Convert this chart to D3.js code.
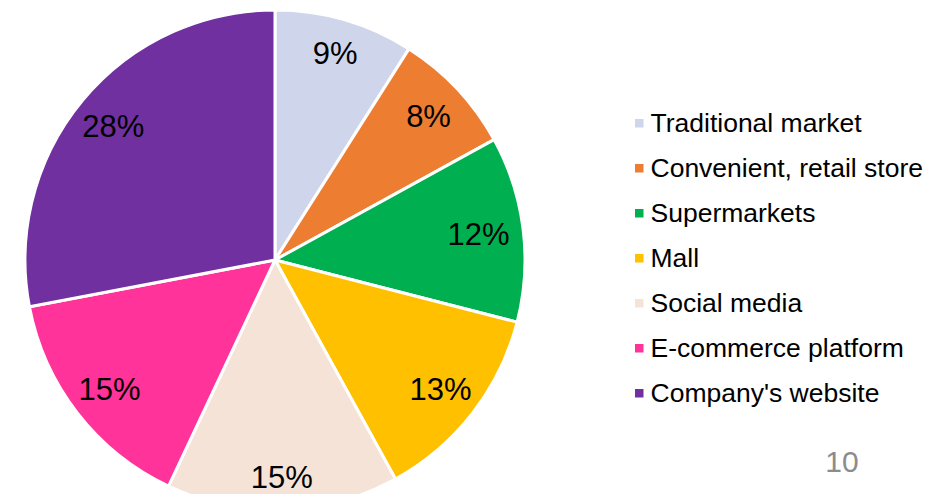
<!DOCTYPE html>
<html lang="en">
<head>
  <meta charset="UTF-8">
  <title>Sales channel pie</title>
  <script src="https://d3js.org/d3.v7.min.js"></script>
  <style>
    body {
      margin: 0;
      background-color: #fff;
      font-family: Arial, "Liberation Sans", sans-serif;
    }
    .label { font-size: 31px; fill: #000; }
    .legend { font-size: 26.5px; fill: #000; }
    .page { font-size: 30px; fill: #8c8c8c; }
  </style>
</head>
<body>
  <svg width="950" height="494"></svg>

  <script>
    const categories = ["Traditional market", "Convenient, retail store", "Supermarkets",
                        "Mall", "Social media", "E-commerce platform", "Company's website"];
    const values = [9, 8, 12, 13, 15, 15, 28];
    const colors = ["#CFD5EA", "#ED7D31", "#00B050", "#FFC000", "#F5E3D7", "#FF3399", "#7030A0"];
    const pageNumber = "10";

    const svg = d3.select("svg");
    const cx = 275, cy = 260, radius = 250;

    const data = categories.map((c, i) => ({name: c, value: values[i]}));
    const color = d3.scaleOrdinal().domain(categories).range(colors);

    const pie = d3.pie().sort(null).value(d => d.value);
    const arc = d3.arc().innerRadius(0).outerRadius(radius);

    // labels sit a bit further out near the top / bottom of the pie
    function labelPos(d) {
      const a = (d.startAngle + d.endAngle) / 2;
      const r = 205 + 12 * Math.cos(a) * Math.cos(a);
      return [r * Math.sin(a), -r * Math.cos(a)];
    }

    const g = svg.append("g").attr("transform", `translate(${cx},${cy})`);

    const arcs = pie(data);

    g.selectAll("path")
      .data(arcs)
      .enter()
      .append("path")
      .attr("d", arc)
      .attr("fill", d => color(d.data.name))
      .attr("stroke", "#fff")
      .attr("stroke-width", 3)
      .attr("stroke-linejoin", "round");

    g.selectAll(".label")
      .data(arcs)
      .enter()
      .append("text")
      .attr("class", "label")
      .attr("transform", d => `translate(${labelPos(d)})`)
      .attr("text-anchor", "middle")
      .attr("dy", "0.36em")
      .text(d => d.data.value + "%");

    // Legend
    const legend = svg.append("g").attr("transform", "translate(635,132)");
    categories.forEach((name, i) => {
      const yPos = i * 45;
      legend.append("rect")
        .attr("x", 0)
        .attr("y", yPos - 13)
        .attr("width", 8.5)
        .attr("height", 8.5)
        .attr("fill", color(name));
      legend.append("text")
        .attr("class", "legend")
        .attr("x", 15.5)
        .attr("y", yPos)
        .text(name);
    });

    svg.append("text")
      .attr("class", "page")
      .attr("x", 842)
      .attr("y", 472)
      .attr("text-anchor", "middle")
      .text(pageNumber);
  </script>
</body>
</html>
